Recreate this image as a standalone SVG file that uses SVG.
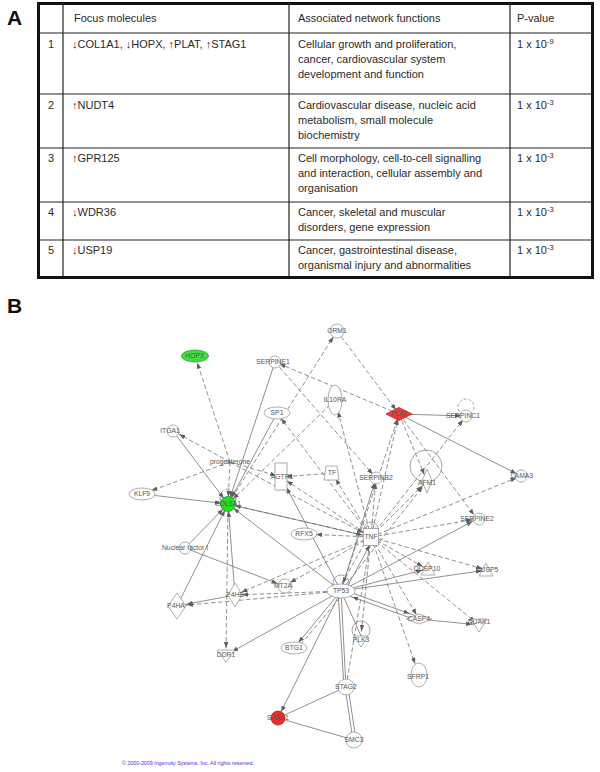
<svg xmlns="http://www.w3.org/2000/svg" width="600" height="772" viewBox="0 0 600 772">
<style>
.tt{font-family:"Liberation Sans",Arial,sans-serif;font-size:11px;fill:#2a2a2a}
.big{font-family:"Liberation Sans",Arial,sans-serif;font-size:21px;font-weight:bold;fill:#111}
.lb{font-family:"Liberation Sans",Arial,sans-serif;font-size:6.8px;fill:#555;text-anchor:middle}
.s{stroke:#737373;stroke-width:0.8;fill:none}
.d{stroke:#737373;stroke-width:0.8;fill:none;stroke-dasharray:4.5 2.5}
.n{fill:#fff;stroke:#9a9a9a;stroke-width:0.8}
.lp{fill:none;stroke:#8a8a8a;stroke-width:0.8}
.grid{stroke:#222;stroke-width:1.2}
</style>
<defs>
<marker id="a5" markerUnits="userSpaceOnUse" markerWidth="6" markerHeight="4.6" refX="11" refY="2.3" orient="auto"><path d="M0,0L6,2.3L0,4.6z" fill="#5e5e5e"/></marker>
<marker id="a7" markerUnits="userSpaceOnUse" markerWidth="6" markerHeight="4.6" refX="13" refY="2.3" orient="auto"><path d="M0,0L6,2.3L0,4.6z" fill="#5e5e5e"/></marker>
<marker id="a9" markerUnits="userSpaceOnUse" markerWidth="6" markerHeight="4.6" refX="15" refY="2.3" orient="auto"><path d="M0,0L6,2.3L0,4.6z" fill="#5e5e5e"/></marker>
<marker id="a10" markerUnits="userSpaceOnUse" markerWidth="6" markerHeight="4.6" refX="16" refY="2.3" orient="auto"><path d="M0,0L6,2.3L0,4.6z" fill="#5e5e5e"/></marker>
<marker id="a12" markerUnits="userSpaceOnUse" markerWidth="6" markerHeight="4.6" refX="18" refY="2.3" orient="auto"><path d="M0,0L6,2.3L0,4.6z" fill="#5e5e5e"/></marker>
</defs>
<rect width="600" height="772" fill="#fff"/>

<text class="big" x="7" y="25">A</text>
<g id="table">
<rect x="38.5" y="3.5" width="554" height="274" fill="#fff" stroke="#111" stroke-width="3"/>
<line class="grid" x1="63" y1="3" x2="63" y2="277"/>
<line class="grid" x1="289" y1="3" x2="289" y2="277"/>
<line class="grid" x1="510" y1="3" x2="510" y2="277"/>
<line class="grid" x1="38" y1="33" x2="593" y2="33"/>
<line class="grid" x1="38" y1="94" x2="593" y2="94"/>
<line class="grid" x1="38" y1="148" x2="593" y2="148"/>
<line class="grid" x1="38" y1="202" x2="593" y2="202"/>
<line class="grid" x1="38" y1="240" x2="593" y2="240"/>
<text class="tt" x="74" y="22">Focus molecules</text>
<text class="tt" x="298" y="22">Associated network functions</text>
<text class="tt" x="517" y="22">P-value</text>

<text class="tt" x="51" y="48" text-anchor="middle">1</text>
<text class="tt" x="72" y="48">↓COL1A1, ↓HOPX, ↑PLAT, ↑STAG1</text>
<text class="tt" x="298" y="48">Cellular growth and proliferation,</text>
<text class="tt" x="298" y="63">cancer, cardiovascular system</text>
<text class="tt" x="298" y="78">development and function</text>
<text class="tt" x="517" y="48">1 x 10<tspan dy="-4" font-size="7.5">-9</tspan></text>

<text class="tt" x="51" y="109" text-anchor="middle">2</text>
<text class="tt" x="72" y="109">↑NUDT4</text>
<text class="tt" x="298" y="109">Cardiovascular disease, nucleic acid</text>
<text class="tt" x="298" y="124">metabolism, small molecule</text>
<text class="tt" x="298" y="139">biochemistry</text>
<text class="tt" x="517" y="109">1 x 10<tspan dy="-4" font-size="7.5">-3</tspan></text>

<text class="tt" x="51" y="162" text-anchor="middle">3</text>
<text class="tt" x="72" y="162">↑GPR125</text>
<text class="tt" x="298" y="162">Cell morphology, cell-to-cell signalling</text>
<text class="tt" x="298" y="177">and interaction, cellular assembly and</text>
<text class="tt" x="298" y="192">organisation</text>
<text class="tt" x="517" y="162">1 x 10<tspan dy="-4" font-size="7.5">-3</tspan></text>

<text class="tt" x="51" y="216" text-anchor="middle">4</text>
<text class="tt" x="72" y="216">↓WDR36</text>
<text class="tt" x="298" y="216">Cancer, skeletal and muscular</text>
<text class="tt" x="298" y="231">disorders, gene expression</text>
<text class="tt" x="517" y="216">1 x 10<tspan dy="-4" font-size="7.5">-3</tspan></text>

<text class="tt" x="51" y="254" text-anchor="middle">5</text>
<text class="tt" x="72" y="254">↓USP19</text>
<text class="tt" x="298" y="254">Cancer, gastrointestinal disease,</text>
<text class="tt" x="298" y="269">organismal injury and abnormalities</text>
<text class="tt" x="517" y="254">1 x 10<tspan dy="-4" font-size="7.5">-3</tspan></text>
</g>

<text class="big" x="7" y="313">B</text>

<g id="connectors">
<line class="d" x1="230" y1="462" x2="195" y2="356" marker-end="url(#a7)"/>
<line class="d" x1="230" y1="462" x2="173" y2="431" marker-end="url(#a7)"/>
<line class="d" x1="230" y1="462" x2="142" y2="494" marker-end="url(#a10)"/>
<line class="d" x1="230" y1="462" x2="281" y2="477" marker-end="url(#a5)"/>
<line class="d" x1="230" y1="462" x2="228" y2="504" marker-end="url(#a7)"/>
<line class="d" x1="228" y1="504" x2="337" y2="331" marker-end="url(#a7)"/>
<line class="s" x1="275" y1="362" x2="228" y2="504" marker-end="url(#a7)"/>
<line class="s" x1="277" y1="413" x2="228" y2="504" marker-end="url(#a7)"/>
<line class="s" x1="173" y1="431" x2="228" y2="504" marker-end="url(#a7)"/>
<line class="s" x1="142" y1="494" x2="228" y2="504" marker-end="url(#a7)"/>
<line class="s" x1="185" y1="548" x2="228" y2="504" marker-end="url(#a7)"/>
<line class="s" x1="177" y1="606" x2="228" y2="504" marker-end="url(#a7)"/>
<line class="s" x1="235" y1="595" x2="228" y2="504" marker-end="url(#a7)"/>
<line class="d" x1="371" y1="537" x2="228" y2="504" marker-end="url(#a7)"/>
<line class="s" x1="341" y1="591" x2="228" y2="504" marker-end="url(#a7)"/>
<line class="d" x1="228" y1="504" x2="226" y2="655" marker-end="url(#a7)"/>
<line class="d" x1="335" y1="400" x2="228" y2="504" marker-end="url(#a7)"/>
<line class="d" x1="399" y1="414" x2="275" y2="362" marker-end="url(#a5)"/>
<line class="d" x1="337" y1="331" x2="399" y2="414" marker-end="url(#a5)"/>
<line class="s" x1="399" y1="414" x2="466" y2="416" marker-end="url(#a5)"/>
<line class="s" x1="399" y1="414" x2="521" y2="476" marker-end="url(#a5)"/>
<line class="d" x1="371" y1="537" x2="399" y2="414" marker-end="url(#a5)"/>
<line class="d" x1="341" y1="591" x2="399" y2="414" marker-end="url(#a5)"/>
<line class="d" x1="399" y1="414" x2="427" y2="481" marker-end="url(#a7)"/>
<line class="d" x1="399" y1="414" x2="477" y2="519" marker-end="url(#a5)"/>
<line class="d" x1="371" y1="537" x2="466" y2="416" marker-end="url(#a5)"/>
<line class="d" x1="371" y1="537" x2="521" y2="476" marker-end="url(#a5)"/>
<line class="d" x1="371" y1="537" x2="427" y2="481" marker-end="url(#a7)"/>
<line class="d" x1="341" y1="591" x2="427" y2="481" marker-end="url(#a7)"/>
<line class="d" x1="371" y1="537" x2="277" y2="413" marker-end="url(#a7)"/>
<line class="d" x1="371" y1="537" x2="335" y2="400" marker-end="url(#a12)"/>
<line class="d" x1="371" y1="537" x2="281" y2="477" marker-end="url(#a7)"/>
<line class="d" x1="371" y1="537" x2="332" y2="473" marker-end="url(#a7)"/>
<line class="d" x1="371" y1="537" x2="376" y2="478" marker-end="url(#a5)"/>
<line class="d" x1="371" y1="537" x2="304" y2="534" marker-end="url(#a12)"/>
<line class="d" x1="371" y1="537" x2="477" y2="519" marker-end="url(#a5)"/>
<line class="d" x1="371" y1="537" x2="427" y2="569" marker-end="url(#a5)"/>
<line class="d" x1="371" y1="537" x2="487" y2="570" marker-end="url(#a5)"/>
<line class="d" x1="371" y1="537" x2="419" y2="619" marker-end="url(#a5)"/>
<line class="d" x1="371" y1="537" x2="479" y2="625" marker-end="url(#a5)"/>
<line class="d" x1="371" y1="537" x2="419" y2="675" marker-end="url(#a12)"/>
<line class="d" x1="371" y1="537" x2="361" y2="636" marker-end="url(#a5)"/>
<line class="d" x1="371" y1="537" x2="346" y2="687"/>
<line class="d" x1="371" y1="537" x2="284" y2="586" marker-end="url(#a7)"/>
<line class="d" x1="371" y1="537" x2="235" y2="595" marker-end="url(#a7)"/>
<line class="d" x1="368" y1="537" x2="338" y2="591" marker-end="url(#a9)"/>
<line class="s" x1="345" y1="591" x2="374" y2="537" marker-end="url(#a9)"/>
<line class="s" x1="341" y1="591" x2="376" y2="478" marker-end="url(#a5)"/>
<line class="s" x1="341" y1="591" x2="281" y2="477" marker-end="url(#a12)"/>
<line class="s" x1="341" y1="591" x2="477" y2="519" marker-end="url(#a5)"/>
<line class="s" x1="341" y1="591" x2="427" y2="569" marker-end="url(#a5)"/>
<line class="s" x1="341" y1="591" x2="487" y2="570" marker-end="url(#a5)"/>
<line class="s" x1="341" y1="589" x2="419" y2="617" marker-end="url(#a10)"/>
<line class="s" x1="419" y1="621" x2="341" y2="593" marker-end="url(#a12)"/>
<line class="s" x1="419" y1="619" x2="479" y2="625" marker-end="url(#a7)"/>
<line class="s" x1="341" y1="591" x2="294" y2="648" marker-end="url(#a7)"/>
<line class="d" x1="344" y1="593" x2="297" y2="649"/>
<line class="s" x1="341" y1="591" x2="226" y2="655" marker-end="url(#a7)"/>
<line class="s" x1="341" y1="591" x2="361" y2="636"/>
<line class="s" x1="341" y1="591" x2="346" y2="687"/>
<line class="s" x1="338" y1="591" x2="344" y2="687"/>
<line class="s" x1="341" y1="591" x2="278" y2="718" marker-end="url(#a7)"/>
<line class="s" x1="346" y1="687" x2="278" y2="718"/>
<line class="s" x1="345" y1="687" x2="353" y2="740"/>
<line class="s" x1="348" y1="687" x2="356" y2="740"/>
<line class="s" x1="278" y1="718" x2="354" y2="740"/>
<line class="d" x1="341" y1="591" x2="177" y2="606" marker-end="url(#a10)"/>
<line class="s" x1="235" y1="595" x2="177" y2="606" marker-end="url(#a10)"/>
<line class="d" x1="341" y1="591" x2="235" y2="595" marker-end="url(#a7)"/>
<line class="s" x1="185" y1="548" x2="284" y2="586" marker-end="url(#a7)"/>
<line class="s" x1="228" y1="504" x2="371" y2="537" marker-end="url(#a9)"/>
<line class="d" x1="275" y1="362" x2="376" y2="478" marker-end="url(#a5)"/>
<line class="d" x1="332" y1="473" x2="281" y2="477" marker-end="url(#a5)"/>
<line class="d" x1="230" y1="462" x2="371" y2="537" marker-end="url(#a9)"/>
<path class="d" d="M221,501 A8,8 0 1,1 235,501"/>
<path class="lp" d="M364,529 A7,7 0 1,1 378,529"/>
<path class="d" d="M366,529 A5,5 0 1,1 376,529"/>
<circle class="lp" cx="341" cy="583" r="8"/>
<circle class="lp" cx="466" cy="407" r="8" stroke-dasharray="3 2"/>
<circle class="lp" cx="426" cy="466" r="16"/>
<circle class="lp" cx="361" cy="630" r="9"/>
</g>

<g id="nodes" opacity="0.99">
<g id="n-HOPX"><ellipse cx="195" cy="356" rx="13.5" ry="6" fill="#3fdc3f" stroke="#2aa82a" stroke-width="0.8"/><text class="lb" x="195" y="358.4">HOPX</text></g>
<g id="n-SERPINE1"><circle class="n" cx="275" cy="362" r="6"/><text class="lb" x="273" y="364.4">SERPINE1</text></g>
<g id="n-ORM1"><circle class="n" cx="337" cy="331" r="7"/><text class="lb" x="337" y="333.4">ORM1</text></g>
<g id="n-IL10RA"><ellipse class="n" cx="335" cy="400" rx="7" ry="15"/><text class="lb" x="335" y="402.4">IL10RA</text></g>
<g id="n-PLAT"><polygon points="386,414 399,407.5 412,414 399,420.5" fill="#e53a3a" stroke="#c02020" stroke-width="0.8"/><text class="lb" x="399" y="416.4">PLAT</text></g>
<g id="n-SERPINC1"><circle class="n" cx="466" cy="416" r="6"/><text class="lb" x="463" y="418.4">SERPINC1</text></g>
<g id="n-SP1"><ellipse class="n" cx="277" cy="413" rx="13" ry="6"/><text class="lb" x="277" y="415.4">SP1</text></g>
<g id="n-ITGA1"><circle class="n" cx="173" cy="431" r="6"/><text class="lb" x="170" y="433.4">ITGA1</text></g>
<g id="n-progesterone"><text class="lb" x="230" y="464.4">progesterone</text></g>
<g id="n-AGTR1"><rect class="n" x="275" y="463" width="12" height="27"/><text class="lb" x="282" y="479.4">AGTR1</text></g>
<g id="n-TF"><polygon class="n" points="326,466 337,466 339,480 324,480"/><text class="lb" x="332" y="475.4">TF</text></g>
<g id="n-SERPINB2"><circle class="n" cx="376" cy="478" r="6"/><text class="lb" x="376" y="480.4">SERPINB2</text></g>
<g id="n-AFM1"><polygon class="n" points="427,469 432,481 427,493 422,481"/><text class="lb" x="427" y="485.4">AFM1</text></g>
<g id="n-LAMA3"><circle class="n" cx="521" cy="476" r="6"/><text class="lb" x="522" y="478.4">LAMA3</text></g>
<g id="n-KLF9"><ellipse class="n" cx="142" cy="494" rx="13" ry="6"/><text class="lb" x="142" y="496.4">KLF9</text></g>
<g id="n-COL1A1"><circle cx="228" cy="504" r="7.5" fill="#22dd22" stroke="#1a9a1a" stroke-width="0.8"/><text class="lb" x="228" y="506.4" font-size="5.5">COL1A1</text></g>
<g id="n-RFX5"><ellipse class="n" cx="304" cy="534" rx="13" ry="6"/><text class="lb" x="304" y="536.4">RFX5</text></g>
<g id="n-TNF"><rect class="n" x="363.5" y="528.5" width="15" height="17"/><text class="lb" x="371" y="539.4">TNF</text></g>
<g id="n-SERPINE2"><circle class="n" cx="479" cy="519" r="6"/><text class="lb" x="477" y="521.4">SERPINE2</text></g>
<g id="n-NuclearFactorI"><circle class="n" cx="185" cy="548" r="6"/><text class="lb" x="185" y="550.4">Nuclear factor I</text></g>
<g id="n-DUSP10"><polygon class="n" points="428,562 421,575 435,575"/><text class="lb" x="427" y="571.4">DUSP10</text></g>
<g id="n-DUSP5"><polygon class="n" points="486,563 479,576 493,576"/><text class="lb" x="487" y="572.4">DUSP5</text></g>
<g id="n-MT2A"><circle class="n" cx="285" cy="586" r="7"/><text class="lb" x="283" y="588.4">MT2A</text></g>
<g id="n-TP53"><ellipse class="n" cx="341" cy="591" rx="14" ry="7"/><text class="lb" x="341" y="593.4">TP53</text></g>
<g id="n-P4HB"><polygon class="n" points="235,583 242,595 235,607 228,595"/><text class="lb" x="235" y="597.4">P4HB</text></g>
<g id="n-P4HA"><polygon class="n" points="177,593 186,606 177,619 168,606"/><text class="lb" x="176" y="608.4">P4HA</text></g>
<g id="n-CASP4"><polygon class="n" points="406,619 419,614 432,619 419,624"/><text class="lb" x="419" y="621.4">CASP4</text></g>
<g id="n-NUAK1"><polygon class="n" points="471,619 487,619 479,632"/><text class="lb" x="479" y="624.4">NUAK1</text></g>
<g id="n-PLK3"><polygon class="n" points="354,636 368,636 361,647"/><text class="lb" x="361" y="642.4">PLK3</text></g>
<g id="n-DDR1"><polygon class="n" points="217,650 235,650 226,662"/><text class="lb" x="226" y="657.4">DDR1</text></g>
<g id="n-BTG1"><ellipse class="n" cx="294" cy="648" rx="13" ry="6"/><text class="lb" x="294" y="650.4">BTG1</text></g>
<g id="n-SFRP1"><ellipse class="n" cx="419" cy="675" rx="8" ry="12"/><text class="lb" x="418" y="679.4">SFRP1</text></g>
<g id="n-STAG2"><circle class="n" cx="346" cy="687" r="8"/><text class="lb" x="346" y="689.4">STAG2</text></g>
<g id="n-STAG1"><circle cx="278" cy="718" r="7" fill="#e62a2a" stroke="#b81a1a" stroke-width="0.8"/><text class="lb" x="278" y="720.4">STAG1</text></g>
<g id="n-SMC3"><circle class="n" cx="354" cy="740" r="8"/><text class="lb" x="354" y="742.4">SMC3</text></g>
</g>

<text x="122" y="765" font-family="Liberation Sans, Arial, sans-serif" font-size="5.3" fill="#3a3ad0">© 2000-2009 Ingenuity Systems, Inc. All rights reserved.</text>
</svg>
